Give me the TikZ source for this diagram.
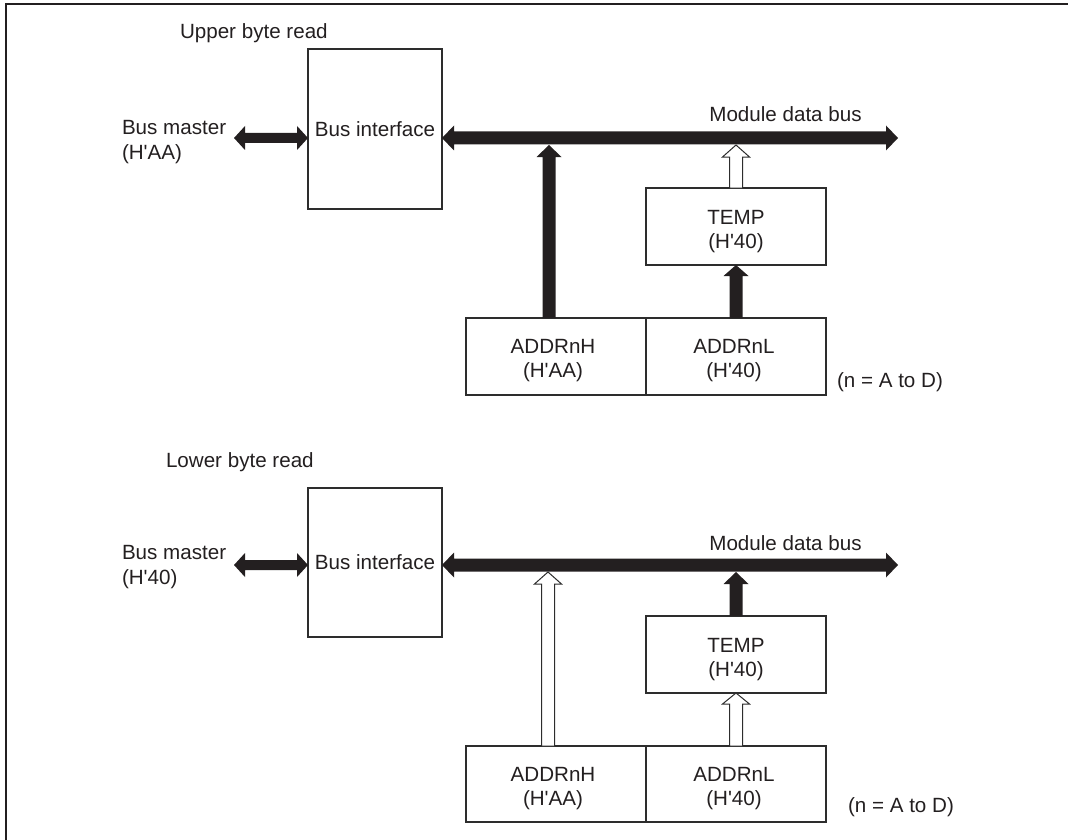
\documentclass[tikz,border=0pt]{standalone}
\usepackage{fontspec}
\setmainfont{Liberation Sans}
\usetikzlibrary{calc}
\definecolor{ink}{RGB}{35,31,32}
\definecolor{edge}{RGB}{45,45,45}
\newcommand\q{\textquotesingle}
% vertical (upward) fat arrow: #1 style, #2 start, #3 tip, #4 shaft half, #5 head half, #6 head length
\newcommand\upArrow[6]{%
  \path[#1] let \p1=(#2), \p2=(#3) in
    (\x1-#4,\y1) -- (\x1-#4,\y2-#6) -- (\x1-#5,\y2-#6) -- (\x1,\y2) --
    (\x1+#5,\y2-#6) -- (\x1+#4,\y2-#6) -- (\x1+#4,\y1) -- cycle;}
% horizontal double-headed fat arrow: #1 style, #2 left tip, #3 right tip, #4 shaft half, #5 head half, #6 head length
\newcommand\dblArrow[6]{%
  \path[#1] let \p1=(#2), \p2=(#3) in
    (\x1,\y1) -- (\x1+#6,\y1+#5) -- (\x1+#6,\y1+#4) -- (\x2-#6,\y1+#4) --
    (\x2-#6,\y1+#5) -- (\x2,\y1) -- (\x2-#6,\y1-#5) -- (\x2-#6,\y1-#4) --
    (\x1+#6,\y1-#4) -- (\x1+#6,\y1-#5) -- cycle;}
\begin{document}
\begin{tikzpicture}[x=1pt,y=-1pt,
  every node/.style={font=\fontsize{20.6pt}{24.5pt}\selectfont, text=ink, inner sep=0pt, outer sep=0pt},
  box/.style={draw=edge, line width=1.3pt, fill=white},
  regbox/.style={box, minimum width=180pt, minimum height=77pt},
  lbl/.style={anchor=base, align=center},
  solidarr/.style={fill=ink},
  hollowarr/.style={draw=edge, line width=1pt, fill=white},
]
\useasboundingbox (0,0) rectangle (1068,840);
\draw[line width=2pt, ink] (6,840) -- (6,4) -- (1068,4);

% ---------------- Upper byte read ----------------
\node[anchor=base west] (t1) at (180,39) {Upper byte read};
\node[anchor=base west, align=left] (bm1) at (122,159) {Bus master\\(H\q AA)};
\node[box, minimum width=134pt, minimum height=160pt] (bi1) at (375,129) {Bus interface};
\node[regbox] (tp1) at (736,226.5) {};
\node[regbox] (ah1) at (556,356.5) {};
\node[regbox] (al1) at (736,356.5) {};
\node[lbl] (tp1t) at (736,248.5) {TEMP\\(H\q 40)};
\node[lbl] (ah1t) at (553,377.5) {ADDRnH\\(H\q AA)};
\node[lbl] (al1t) at (734,377.5) {ADDRnL\\(H\q 40)};
\node[anchor=base] (mdb1) at (785.5,122) {Module data bus};
\node[anchor=base west] (n1) at (837,387) {(n = A to D)};
\coordinate (bmt1) at (234,138);
\coordinate (be1) at (898,138);
\coordinate (ahx1) at ($(ah1.north)+(-7,0)$);

\dblArrow{solidarr}{bmt1}{bi1.west |- bmt1}{5pt}{12pt}{11pt}
\dblArrow{solidarr}{bi1.east |- be1}{be1}{6.5pt}{12.5pt}{12pt}
\upArrow{solidarr}{ahx1}{$(ahx1 |- be1)+(0,7)$}{6.5pt}{12.5pt}{12pt}
\upArrow{hollowarr}{tp1.north}{$(tp1.north |- be1)+(0,7)$}{6.5pt}{13.5pt}{12pt}
\upArrow{solidarr}{al1.north}{tp1.south}{6.5pt}{12.5pt}{11pt}

% ---------------- Lower byte read ----------------
\node[anchor=base west] (t2) at (166,467.7) {Lower byte read};
\node[anchor=base west, align=left] (bm2) at (122,584) {Bus master\\(H\q 40)};
\node[box, minimum width=134pt, minimum height=149pt] (bi2) at (375,562.5) {Bus interface};
\node[regbox] (tp2) at (736,654.5) {};
\node[regbox, minimum height=76pt] (ah2) at (556,784) {};
\node[regbox, minimum height=76pt] (al2) at (736,784) {};
\node[lbl] (tp2t) at (736,676.5) {TEMP\\(H\q 40)};
\node[lbl] (ah2t) at (553,805.5) {ADDRnH\\(H\q AA)};
\node[lbl] (al2t) at (734,805.5) {ADDRnL\\(H\q 40)};
\node[anchor=base] (mdb2) at (785.5,550) {Module data bus};
\node[anchor=base west] (n2) at (848,812) {(n = A to D)};
\coordinate (bmt2) at (234,565);
\coordinate (be2) at (898,565);
\coordinate (ahx2) at ($(ah2.north)+(-8,0)$);

\dblArrow{solidarr}{bmt2}{bi2.west |- bmt2}{5pt}{12pt}{11pt}
\dblArrow{solidarr}{bi2.east |- be2}{be2}{6.5pt}{12.5pt}{12pt}
\upArrow{hollowarr}{ahx2}{$(ahx2 |- be2)+(0,7)$}{6.5pt}{13.5pt}{12pt}
\upArrow{solidarr}{tp2.north}{$(tp2.north |- be2)+(0,7)$}{6.5pt}{12.5pt}{12pt}
\upArrow{hollowarr}{al2.north}{tp2.south}{6.5pt}{13.5pt}{11pt}
\end{tikzpicture}
\end{document}
